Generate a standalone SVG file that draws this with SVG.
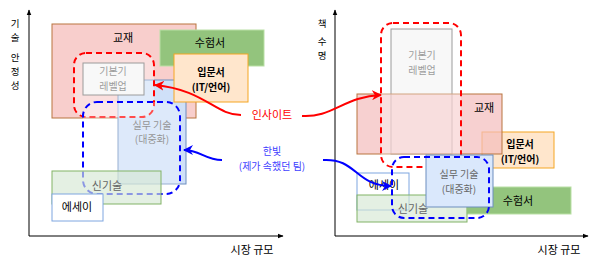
<svg xmlns="http://www.w3.org/2000/svg" width="601" height="266" viewBox="0 0 601 266">
<style>
text{font-family:"Noto Sans CJK KR","Noto Sans",sans-serif;font-size:11px;text-anchor:middle;fill:#000}
.ay{font-size:9.5px}
.m{font-size:10px}
.g{fill:#666}
.b{font-weight:bold}
.kyo{fill:#f8cecc;stroke:#b9743e;stroke-width:1}
.kyo2{fill:#f4bcbc;fill-opacity:0.7;stroke:#b9743e;stroke-width:1}
.suh{fill:#93c47d;stroke:#b9e0a5;stroke-width:1}
.ipm{fill:#ffe6cc;stroke:#f5a623;stroke-width:1}
.gib{fill:#f5f5f5;stroke:#666;stroke-width:1}
.sil{fill:#cfe0f8;stroke:#6c8ebf;stroke-width:1}
.sin{fill:#d5e8d4;fill-opacity:0.65;stroke:#82b366;stroke-width:1}
.ess{fill:#fff;stroke:#7ea6e0;stroke-width:1}
.ess2{fill:#fff;fill-opacity:0.6;stroke:#7ea6e0;stroke-width:1}
.rd{fill:#fff;fill-opacity:0.35;stroke:#ff0000;stroke-width:2;stroke-dasharray:6 4}
.bd{fill:#fff;fill-opacity:0.3;stroke:#0000ff;stroke-width:2;stroke-dasharray:6 4}
.ax{stroke:#000;stroke-width:1;fill:none}
</style>
<defs>
<marker id="ah" viewBox="0 0 10 10" refX="9" refY="5" markerWidth="6" markerHeight="6" orient="auto"><path d="M0,1 L10,5 L0,9 Z" fill="#000"/></marker>
<marker id="ar" viewBox="0 0 10 10" refX="9" refY="5" markerWidth="5" markerHeight="5" orient="auto"><path d="M0,0 L10,5 L0,10 L3,5 Z" fill="#ff0000"/></marker>
<marker id="ab" viewBox="0 0 10 10" refX="9" refY="5" markerWidth="5" markerHeight="5" orient="auto"><path d="M0,0 L10,5 L0,10 L3,5 Z" fill="#0000ff"/></marker>
</defs>

<g id="axes-left">
<line class="ax" x1="29" y1="236" x2="29" y2="10" marker-end="url(#ah)"/>
<line class="ax" x1="29" y1="236" x2="283" y2="236" marker-end="url(#ah)"/>
<text class="ay" x="15" y="26.5">기<tspan x="15" dy="14">술</tspan><tspan x="15" dy="20">안</tspan><tspan x="15" dy="14">정</tspan><tspan x="15" dy="14">성</tspan></text>
<text x="252" y="254">시장 규모</text>
</g>
<g id="axes-right">
<line class="ax" x1="335" y1="236" x2="335" y2="10" marker-end="url(#ah)"/>
<line class="ax" x1="335" y1="236" x2="588" y2="236" marker-end="url(#ah)"/>
<text class="ay" x="322" y="26.5">책<tspan x="322" dy="18">수</tspan><tspan x="322" dy="14">명</tspan></text>
<text x="559" y="254">시장 규모</text>
</g>

<!-- left panel -->
<g id="L-kyojae"><rect class="kyo" x="52" y="24" width="144" height="94"/><text x="123" y="42">교재</text></g>
<g id="L-suheom"><rect class="suh" x="160" y="30" width="104" height="36"/><text x="210" y="47">수험서</text></g>
<g id="L-silmu"><rect class="sil" x="118" y="80" width="68" height="104"/><text class="g m" x="152" y="128.5">실무 기술<tspan x="152" dy="14.5">(대중화)</tspan></text></g>
<g id="L-ipmun"><rect class="ipm" x="174" y="54" width="74" height="48"/><text class="b m" x="211" y="76">입문서<tspan x="211" dy="14.5">(IT/언어)</tspan></text></g>
<g id="L-gibon"><rect class="gib" x="83" y="63" width="61" height="32"/><text class="g m" x="113" y="75">기본기<tspan x="113" dy="14.5">레벨업</tspan></text></g>
<g id="L-insight-box"><rect class="rd" x="74" y="53" width="80" height="64" rx="12"/></g>
<g id="L-hanbit-box"><rect class="bd" x="83" y="102" width="97" height="92" rx="14"/></g>
<g id="L-sin"><rect class="sin" x="52" y="171" width="109" height="33"/><text class="g" x="107" y="190">신기술</text></g>
<g id="L-essay"><rect class="ess" x="52" y="194" width="51" height="27"/><text x="77" y="211">에세이</text></g>

<!-- right panel -->
<g id="R-gibon"><rect class="gib" x="391" y="29" width="61" height="125"/><text class="g m" x="422" y="58.5">기본기<tspan x="422" dy="15">레벨업</tspan></text></g>
<g id="R-ipmun"><rect class="ipm" x="482" y="132" width="72" height="36"/><text class="b m" x="520" y="148">입문서<tspan x="520" dy="14.5">(IT/언어)</tspan></text></g>
<g id="R-kyojae"><rect class="kyo2" x="357" y="94" width="145" height="60"/><text x="484" y="112">교재</text></g>
<g id="R-insight-box"><rect class="rd" x="381" y="23" width="80" height="144" rx="12"/></g>
<g id="R-suheom"><rect class="suh" x="467" y="187" width="104" height="27"/><text x="518" y="205">수험서</text></g>
<g id="R-essay"><rect class="ess2" x="357" y="173" width="52" height="37"/><text x="384" y="189">에세이</text></g>
<g id="R-sin"><rect class="sin" x="357" y="195" width="110" height="27"/><text class="g" x="413" y="213">신기술</text></g>
<g id="R-silmu"><rect class="sil" x="426" y="155" width="67" height="52" style="fill:#dae8fc"/><text class="g m" x="459" y="178">실무 기술<tspan x="459" dy="14.5">(대중화)</tspan></text></g>
<g id="R-hanbit-box"><rect class="bd" x="392" y="157" width="97" height="61" rx="12" style="fill:none"/></g>

<g id="labels">
<text x="272" y="119" style="fill:#ff0000">인사이트</text>
<text class="m" x="272" y="155" style="fill:#4040ff">한빛<tspan x="272" dy="15">(제가 속했던 팀)</tspan></text>
</g>

<g id="connectors" fill="none" stroke-width="2">
<path d="M241,115 C215,115 205,90 155,85" stroke="#ff0000" marker-end="url(#ar)"/>
<path d="M302,116 C332,118 345,96 381,95" stroke="#ff0000" marker-end="url(#ar)"/>
<path d="M222,160 C205,160 200,150 184,150" stroke="#0000ff" marker-end="url(#ab)"/>
<path d="M323,160 C357,158 355,186 391,186" stroke="#0000ff" marker-end="url(#ab)"/>
</g>
</svg>
